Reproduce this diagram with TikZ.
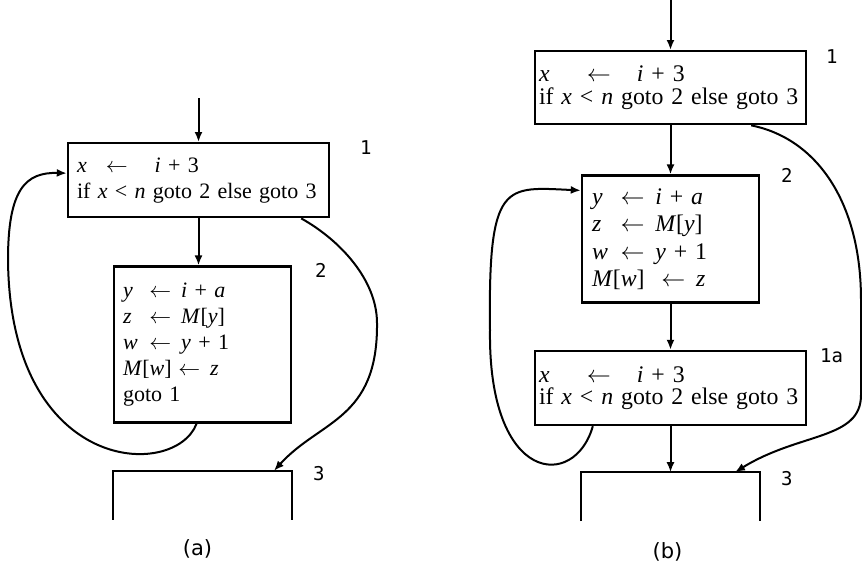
\documentclass[tikz,border=0pt]{standalone}
\usepackage{fontspec}
\setmainfont{Liberation Serif}
\newfontfamily\tagfont{DejaVu Sans Mono}
\newfontfamily\capfont{DejaVu Sans}
\usepackage{tikz}
\usetikzlibrary{arrows.meta,positioning}
\newcommand{\cv}[1]{\textit{#1}}
\newcommand{\asgn}[2]{\makebox[1.2em][l]{#1}$\leftarrow$\hspace{0.45em}#2}

\begin{document}
\begin{tikzpicture}[>={Latex[length=5pt,width=4pt]},line width=1pt,x=0.5pt,y=-0.5pt]
\tikzstyle{blockbox}=[draw,line width=1.2pt,align=left,inner ysep=0pt,anchor=north]
\tikzstyle{codea}=[blockbox,font=\fontsize{11}{13}\selectfont,inner xsep=4.5pt]
\tikzstyle{codeb}=[blockbox,font=\fontsize{11.9}{13.75}\selectfont]
\tikzstyle{exitbox}=[minimum width=88.5pt,minimum height=23.5pt,inner sep=0pt]
\tikzstyle{tag}=[font=\tagfont\fontsize{9.5}{9.5}\selectfont,inner sep=0pt,anchor=north west]
\tikzstyle{caption}=[font=\capfont\fontsize{10.5}{10.5}\selectfont,inner sep=0pt]
\useasboundingbox (0,0) rectangle (862,562);
\node[codea,text width=121.5pt,minimum height=37pt] (b1a) at (198.5,142) {\cv{x}\hspace{0.87em}$\leftarrow$\hspace{1.22em}\cv{i} + 3\\if \cv{x} < \cv{n} goto 2 else goto 3};
\node[codea,text width=79.5pt,minimum height=78pt,below=23.5pt of b1a,xshift=2pt] (b2a) {\asgn{\cv{y}}{\cv{i} + \cv{a}}\\\asgn{\cv{z}}{\cv{M}[\cv{y}]}\\\asgn{\cv{w}}{\cv{y} + 1}\\\cv{M}[\cv{w}]\hspace{0.3em}$\leftarrow$\hspace{0.45em}\cv{z}\\goto 1};
\node[exitbox,below=23.5pt of b2a] (b3a) {};
\draw[line width=1.2pt] (b3a.south west) -- (b3a.north west) -- (b3a.north east) -- (b3a.south east);
\coordinate[above=22pt of b1a] (ina);
\draw[->] (ina) -- (b1a);
\draw[->] (b1a.south) -- (b1a.south |- b2a.north);
\draw[->] ([xshift=-3pt]b2a.south) .. controls (175,480) and (10,475) .. (8,260) .. controls (8,190) and (25,172) .. ([yshift=3.5pt]b1a.west);
\draw[->] ([xshift=-14.5pt]b1a.south east) .. controls (340,240) and (377,280) .. (377,323) .. controls (378,420) and (320,420) .. ([xshift=-9pt]b3a.north east);
\node[tag] (t1a) at ([shift={(14.5pt,1pt)}]b1a.north east) {1};
\node[tag] (t2a) at ([shift={(11pt,1.5pt)}]b2a.north east) {2};
\node[tag] (t3a) at ([shift={(10pt,2.5pt)}]b3a.north east) {3};
\node[caption,below=9.5pt of b3a,xshift=-2.5pt] (capa) {(a)};
\node[codeb,text width=131.5pt,inner xsep=2pt,minimum height=36.5pt,font=\fontsize{11.9}{11.2}\selectfont] (b1b) at (670.5,50) {\cv{x}\hspace{1.57em}$\leftarrow$\hspace{1.09em}\cv{i} + 3\\if \cv{x} < \cv{n} goto 2 else goto 3};
\node[codeb,text width=78.5pt,inner xsep=5pt,minimum height=63.5pt,below=24.5pt of b1b] (b2b) {\asgn{\cv{y}}{\cv{i} + \cv{a}}\\\asgn{\cv{z}}{\cv{M}[\cv{y}]}\\\asgn{\cv{w}}{\cv{y} + 1}\\\cv{M}[\cv{w}]\hspace{0.7em}$\leftarrow$\hspace{0.45em}\cv{z}};
\node[codeb,text width=131.5pt,inner xsep=2pt,minimum height=37pt,below=23pt of b2b,font=\fontsize{11.9}{11.2}\selectfont] (b1ab) {\cv{x}\hspace{1.57em}$\leftarrow$\hspace{1.09em}\cv{i} + 3\\if \cv{x} < \cv{n} goto 2 else goto 3};
\node[exitbox,below=23pt of b1ab] (b3b) {};
\draw[line width=1.2pt] (b3b.south west) -- (b3b.north west) -- (b3b.north east) -- (b3b.south east);
\coordinate[above=25pt of b1b] (inb);
\draw[->] (inb) -- (b1b);
\draw[->] (b1b) -- (b2b);
\draw[->] (b2b) -- (b1ab);
\draw[->] (b1ab) -- (b3b);
\draw[->] ([xshift=29.5pt]b1ab.south west) .. controls (575,490) and (488,485) .. (490,330) .. controls (488,180) and (505,187) .. ([yshift=-8pt]b2b.north west);
\draw[->] ([xshift=-28pt]b1b.south east) .. controls (815,138) and (861,200) .. (861,300) -- (861,395) .. controls (861,440) and (800,432) .. ([xshift=-12.5pt]b3b.north east);
\node[tag] (t1b) at ([shift={(9pt,0.5pt)}]b1b.north east) {1};
\node[tag] (t2b) at ([shift={(10pt,3.5pt)}]b2b.north east) {2};
\node[tag] (t1ab) at ([shift={(6pt,1pt)}]b1ab.north east) {1a};
\node[tag] (t3b) at ([shift={(10pt,1pt)}]b3b.north east) {3};
\node[caption,below=10pt of b3b,xshift=-1.5pt] (capb) {(b)};
\end{tikzpicture}
\end{document}
